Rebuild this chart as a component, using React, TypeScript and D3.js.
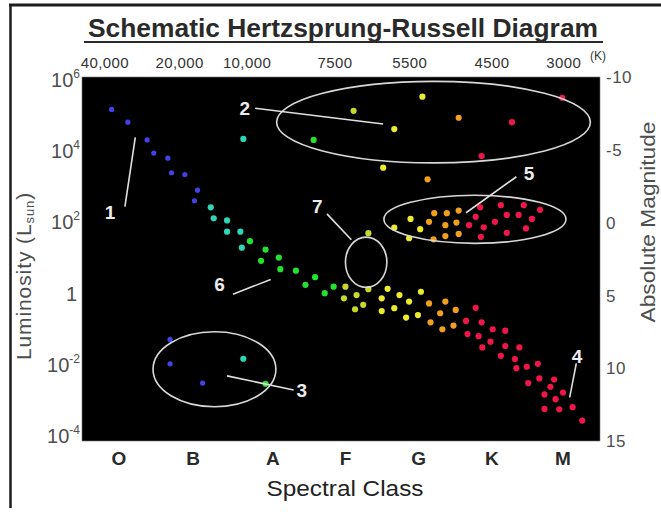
import { useRef, useEffect } from "react";
import * as d3 from "d3";

// [spectral position (O = 0 ... M = 6), log10 of L / Lsun]
type Star = [number, number];

const spectralClasses = ["O", "B", "A", "F", "G", "K", "M"];
const spectralPositions = [0, 1, 2.08, 3.06, 4.05, 5.04, 6.0];

const temperatureLabels = ["40,000", "20,000", "10,000", "7500", "5500", "4500", "3000"];
const temperaturePositions = [-0.19, 0.82, 1.73, 2.92, 3.93, 5.04, 6.01];

const luminosityExponents = [6, 4, 2, 0, -2, -4];
const magnitudeTicks = [-10, -5, 0, 5, 10, 15];

const blueStars: Star[] = [
  [-0.1, 5.11], [0.12, 4.76], [0.38, 4.27], [0.47, 3.91], [0.66, 3.77],
  [0.71, 3.37], [0.89, 3.32], [1.06, 2.89], [1.02, 2.6],
  [0.69, -1.21], [0.69, -1.88], [1.13, -2.41],
];

const cyanStars: Star[] = [
  [1.68, 4.3], [1.24, 2.42], [1.28, 2.12], [1.46, 2.06], [1.46, 1.75],
  [1.64, 1.75], [1.66, 1.31], [1.68, -1.74],
];

const greenStars: Star[] = [
  [1.77, 1.49], [1.98, 1.26], [1.92, 0.95], [2.16, 1.04], [2.18, 0.72],
  [2.39, 0.68], [2.52, 0.29], [2.65, 0.5], [2.78, 0.06], [2.9, 0.24],
  [1.98, -2.43], [2.63, 4.27],
];

const yellowGreenStars: Star[] = [
  [3.06, 0.24], [3.04, -0.08], [3.21, 0.01], [3.19, -0.38], [3.3, -0.26],
  [3.37, 0.17], [3.17, 5.07], [3.37, 1.71],
];

const yellowStars: Star[] = [
  [3.63, 0.18], [3.55, -0.08], [3.55, -0.43], [3.79, 0.01], [3.72, -0.35],
  [3.92, -0.17], [3.88, -0.61], [4.08, 0.1], [4.04, -0.54],
  [3.72, 4.57], [4.1, 5.46], [3.57, 3.51],
  [3.94, 2.1], [3.72, 1.86], [4.07, 1.82], [3.92, 1.57],
];

const orangeStars: Star[] = [
  [4.19, -0.22], [4.21, -0.74], [4.34, -0.49], [4.41, -0.17], [4.37, -0.93],
  [4.55, -0.4], [4.52, -0.83],
  [4.59, 4.88], [4.17, 3.19],
  [4.26, 2.26], [4.43, 2.26], [4.59, 2.33], [4.19, 2.02], [4.41, 1.93],
  [4.56, 2.0], [4.25, 1.54], [4.41, 1.63], [4.59, 1.69],
];

const redStars: Star[] = [
  [4.82, -0.34], [4.69, -0.7], [4.9, -0.74], [4.71, -1.06], [5.05, -0.93],
  [5.22, -0.97], [4.86, -1.12], [4.91, -1.43], [5.02, -1.27], [5.22, -1.39],
  [5.41, -1.43], [5.16, -1.66], [5.35, -1.75], [5.37, -2.0], [5.51, -1.96],
  [5.66, -1.88], [5.53, -2.41], [5.68, -2.28], [5.88, -2.31], [5.83, -2.51],
  [5.75, -2.72], [5.9, -2.85], [6.0, -2.67], [5.75, -3.12], [5.95, -3.13],
  [6.13, -3.07], [6.26, -3.44],
  [5.31, 4.76], [5.99, 5.43], [4.9, 3.83],
  [4.88, 2.42], [5.16, 2.48], [5.47, 2.48], [5.69, 2.35], [4.82, 2.16],
  [5.24, 2.21], [5.4, 2.21], [5.58, 2.1], [4.73, 1.93], [5.08, 2.02],
  [4.93, 1.87], [5.5, 1.84], [5.24, 1.72], [4.89, 1.61],
];

// region outlines: [centre position, centre log L, half width, half height]
const regionEllipses = [
  [4.25, 4.76, 2.12, 1.12],
  [4.81, 2.09, 1.23, 0.66],
  [3.34, 0.91, 0.28, 0.69],
  [1.29, -2.03, 0.83, 1.03],
];

const callouts = [
  { label: "1", from: [0.22, 4.34], to: [0.08, 2.44], at: [-0.12, 2.3] },
  { label: "2", from: [1.84, 5.14], to: [3.57, 4.71], at: [1.7, 5.15] },
  { label: "3", from: [1.46, -2.21], to: [2.36, -2.6], at: [2.47, -2.6] },
  { label: "4", from: [6.18, -1.87], to: [6.09, -2.8], at: [6.19, -1.66] },
  { label: "5", from: [4.69, 2.27], to: [5.37, 3.26], at: [5.54, 3.36] },
  { label: "6", from: [1.54, 0.03], to: [2.05, 0.44], at: [1.36, 0.31] },
  { label: "7", from: [2.81, 2.24], to: [3.14, 1.53], at: [2.68, 2.46] },
];

const starGroups = [
  { stars: blueStars, color: "#4242e6", r: 2.6 },
  { stars: cyanStars, color: "#2ed6b6", r: 3.1 },
  { stars: greenStars, color: "#24e22e", r: 3.1 },
  { stars: yellowGreenStars, color: "#c6d82a", r: 3.1 },
  { stars: yellowStars, color: "#ecec2e", r: 3.1 },
  { stars: orangeStars, color: "#f2a01e", r: 3.1 },
  { stars: redStars, color: "#f01848", r: 3.1 },
];

const W = 661;
const H = 521;
const plot = { left: 82, right: 600, top: 77, bottom: 441 };
const font = "'Liberation Sans', Arial, sans-serif";
const grey = "#4e4e4e";

const App = () => {
  const ref = useRef<SVGSVGElement>(null);

  useEffect(() => {
    if (!ref.current) return;
    const svg = d3.select(ref.current);
    svg.selectAll("*").remove();

    const x = d3.scaleLinear().domain([-0.5, 6.5]).range([plot.left, plot.right]);
    const y = d3.scaleLinear().domain([6, -4]).range([plot.top, plot.bottom]);
    const mag = d3.scaleLinear().domain([-10, 15]).range([plot.top, plot.bottom]);
    // left labels sit a little tighter than the plot edges
    const yLabel = d3.scaleLinear().domain([6, -4]).range([87, 443]);

    // frame
    svg.append("rect").attr("width", W).attr("height", H).attr("fill", "#fff");
    svg.append("line").attr("x1", 9).attr("x2", W).attr("y1", 5).attr("y2", 5)
      .attr("stroke", "#1c1c1c").attr("stroke-width", 3);
    svg.append("line").attr("x1", 10.5).attr("x2", 10.5).attr("y1", 4).attr("y2", 508)
      .attr("stroke", "#1c1c1c").attr("stroke-width", 2.5);

    // title
    svg.append("text")
      .attr("x", 343).attr("y", 37)
      .attr("text-anchor", "middle")
      .attr("font-family", font).attr("font-weight", "bold").attr("font-size", 26)
      .attr("textLength", 510).attr("lengthAdjust", "spacingAndGlyphs")
      .attr("fill", "#2a2a2a")
      .text("Schematic Hertzsprung-Russell Diagram");
    svg.append("line").attr("x1", 84).attr("x2", 603).attr("y1", 42).attr("y2", 42)
      .attr("stroke", "#2a2a2a").attr("stroke-width", 2);

    // plot background
    svg.append("rect")
      .attr("x", plot.left).attr("y", plot.top)
      .attr("width", plot.right - plot.left).attr("height", plot.bottom - plot.top)
      .attr("fill", "#000").attr("stroke", "#777").attr("stroke-width", 0.6);

    // temperatures along the top
    svg.selectAll(".temp")
      .data(temperatureLabels)
      .enter()
      .append("text")
      .attr("class", "temp")
      .attr("x", (_, i) => x(temperaturePositions[i]))
      .attr("y", 68)
      .attr("text-anchor", "middle")
      .attr("font-family", font).attr("font-size", 15).attr("letter-spacing", 0.4)
      .attr("fill", "#333")
      .text((d) => d);
    svg.append("text")
      .attr("x", 598).attr("y", 60)
      .attr("text-anchor", "middle")
      .attr("font-family", font).attr("font-size", 12)
      .attr("fill", "#333")
      .text("(K)");

    // luminosity axis (left)
    const lum = svg.selectAll(".lum")
      .data(luminosityExponents)
      .enter()
      .append("text")
      .attr("class", "lum")
      .attr("x", (d) => (d === 0 ? 77 : 80))
      .attr("y", (d) => yLabel(d))
      .attr("text-anchor", "end")
      .attr("font-family", font).attr("font-size", 20)
      .attr("fill", grey);
    lum.append("tspan").text((d) => (d === 0 ? "1" : "10"));
    lum.filter((d) => d !== 0)
      .append("tspan")
      .attr("dy", -9)
      .attr("font-size", 12)
      .text((d) => String(d));

    svg.append("text")
      .attr("transform", "translate(31,276) rotate(-90)")
      .attr("text-anchor", "middle")
      .attr("font-family", font).attr("font-size", 21).attr("letter-spacing", 0.9)
      .attr("fill", grey)
      .call((t) => {
        t.append("tspan").text("Luminosity (L");
        t.append("tspan").attr("font-size", 13).attr("dy", 3).text("sun");
        t.append("tspan").attr("dy", -3).text(")");
      });

    // magnitude axis (right)
    svg.selectAll(".mag")
      .data(magnitudeTicks)
      .enter()
      .append("text")
      .attr("class", "mag")
      .attr("x", 606)
      .attr("y", (d) => mag(d))
      .attr("dy", "0.36em")
      .attr("font-family", font).attr("font-size", 17).attr("letter-spacing", 0.5)
      .attr("fill", grey)
      .text((d) => String(d));

    svg.append("text")
      .attr("transform", "translate(655,222) rotate(-90)")
      .attr("text-anchor", "middle")
      .attr("font-family", font).attr("font-size", 20)
      .attr("textLength", 201).attr("lengthAdjust", "spacingAndGlyphs")
      .attr("fill", grey)
      .text("Absolute Magnitude");

    // spectral classes
    svg.selectAll(".cls")
      .data(spectralClasses)
      .enter()
      .append("text")
      .attr("class", "cls")
      .attr("x", (_, i) => x(spectralPositions[i]))
      .attr("y", 465)
      .attr("text-anchor", "middle")
      .attr("font-family", font).attr("font-weight", "bold").attr("font-size", 19)
      .attr("fill", "#2a2a2a")
      .text((d) => d);

    svg.append("text")
      .attr("x", 345).attr("y", 496)
      .attr("text-anchor", "middle")
      .attr("font-family", font).attr("font-size", 22)
      .attr("textLength", 157).attr("lengthAdjust", "spacingAndGlyphs")
      .attr("fill", "#222")
      .text("Spectral Class");

    // soft glow for the stars
    const defs = svg.append("defs");
    defs.append("filter").attr("id", "glow")
      .attr("x", "-50%").attr("y", "-50%").attr("width", "200%").attr("height", "200%")
      .append("feGaussianBlur").attr("stdDeviation", 0.6);

    const stars = svg.append("g").attr("filter", "url(#glow)");
    starGroups.forEach((g) => {
      stars.selectAll(null)
        .data(g.stars)
        .enter()
        .append("circle")
        .attr("cx", (d) => x(d[0]))
        .attr("cy", (d) => y(d[1]))
        .attr("r", g.r)
        .attr("fill", g.color);
    });

    // region outlines
    svg.selectAll(".region")
      .data(regionEllipses)
      .enter()
      .append("ellipse")
      .attr("class", "region")
      .attr("cx", (d) => x(d[0]))
      .attr("cy", (d) => y(d[1]))
      .attr("rx", (d) => x(d[2]) - x(0))
      .attr("ry", (d) => y(0) - y(d[3]))
      .attr("fill", "none")
      .attr("stroke", "#d8d8d8")
      .attr("stroke-width", 1.6);

    // numbered callouts
    svg.selectAll(".leader")
      .data(callouts)
      .enter()
      .append("line")
      .attr("class", "leader")
      .attr("x1", (d) => x(d.from[0]))
      .attr("y1", (d) => y(d.from[1]))
      .attr("x2", (d) => x(d.to[0]))
      .attr("y2", (d) => y(d.to[1]))
      .attr("stroke", "#e0e0e0")
      .attr("stroke-width", 1.6);

    svg.selectAll(".callout")
      .data(callouts)
      .enter()
      .append("text")
      .attr("class", "callout")
      .attr("x", (d) => x(d.at[0]))
      .attr("y", (d) => y(d.at[1]))
      .attr("dy", "0.36em")
      .attr("text-anchor", "middle")
      .attr("font-family", font).attr("font-weight", "bold").attr("font-size", 19)
      .attr("fill", "#ececec")
      .text((d) => d.label);
  }, []);

  return (
    <svg
      ref={ref}
      width={W}
      height={H}
      style={{ position: "absolute", left: 0, top: 0 }}
    />
  );
};

export default App;
